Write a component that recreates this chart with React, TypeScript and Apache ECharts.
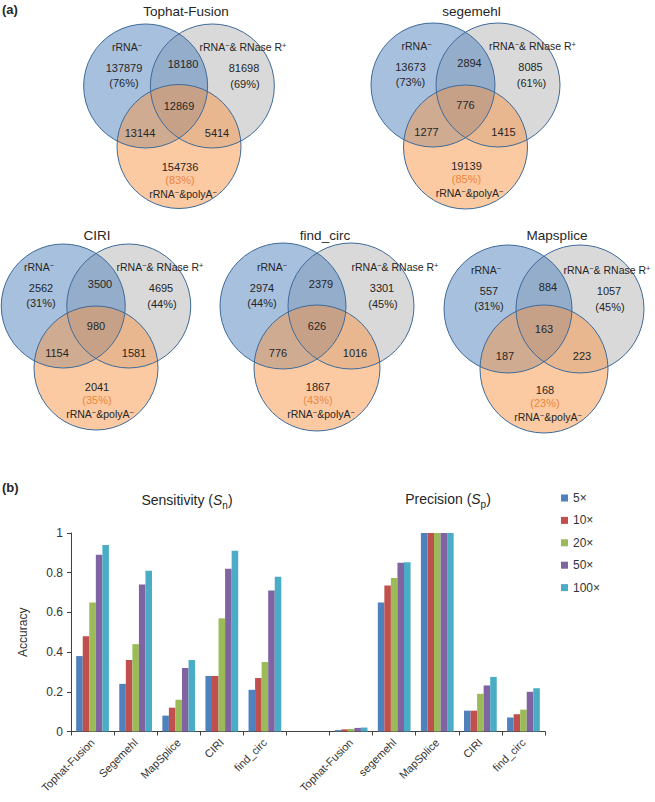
import React, { useEffect, useRef } from 'react';
import * as echarts from 'echarts';

const W = 655;
const H = 802;
const FONT = '"Liberation Sans", Arial, "DejaVu Sans", sans-serif';

// ---------- Venn data (a) ----------
const vennTitles = ['Tophat-Fusion', 'segemehl', 'CIRI', 'find_circ', 'Mapsplice'];
const setA = 'rRNA⁻';
const setB = 'rRNA⁻& RNase R⁺';
const setC = 'rRNA⁻&polyA⁻';
const aOnly = [137879, 13673, 2562, 2974, 557];
const bOnly = [81698, 8085, 4695, 3301, 1057];
const cOnly = [154736, 19139, 2041, 1867, 168];
const abOnly = [18180, 2894, 3500, 2379, 884];
const acOnly = [13144, 1277, 1154, 776, 187];
const bcOnly = [5414, 1415, 1581, 1016, 223];
const abcAll = [12869, 776, 980, 626, 163];
const aPct = ['76%', '73%', '31%', '44%', '31%'];
const bPct = ['69%', '61%', '44%', '45%', '45%'];
const cPct = ['83%', '85%', '35%', '43%', '23%'];

// ---------- Bar data (b) ----------
const sensTools = ['Tophat-Fusion', 'Segemehl', 'MapSplice', 'CIRI', 'find_circ'];
const precTools = ['Tophat-Fusion', 'segemehl', 'MapSplice', 'CIRI', 'find_circ'];
const depths = ['5×', '10×', '20×', '50×', '100×'];
const sens5x = [0.38, 0.24, 0.08, 0.28, 0.21];
const sens10x = [0.48, 0.36, 0.12, 0.28, 0.27];
const sens20x = [0.65, 0.44, 0.16, 0.57, 0.35];
const sens50x = [0.89, 0.74, 0.32, 0.82, 0.71];
const sens100x = [0.94, 0.81, 0.36, 0.91, 0.78];
const prec5x = [0.007, 0.65, 1, 0.105, 0.07];
const prec10x = [0.011, 0.735, 1, 0.105, 0.087];
const prec20x = [0.013, 0.773, 1, 0.19, 0.11];
const prec50x = [0.018, 0.85, 1, 0.232, 0.2];
const prec100x = [0.02, 0.853, 1, 0.275, 0.218];

const sensByDepth = [sens5x, sens10x, sens20x, sens50x, sens100x];
const precByDepth = [prec5x, prec10x, prec20x, prec50x, prec100x];
const depthColors = ['#4F81BD', '#C0504D', '#9BBB59', '#8064A2', '#4BACC6'];

// ---------- Layout (not data) ----------
const vennLayout = [
  { cx: 179, cy: 86, d: 66.7, r: 62, dy: 60.5, tdx: 7, ty: 11, adx: -52, bdx: 64 },
  { cx: 465.5, cy: 85, d: 65, r: 62, dy: 62, tdx: 6, ty: 11, adx: -49, bdx: 67 },
  { cx: 96, cy: 306, d: 65.5, r: 62, dy: 62, tdx: 1, ty: 235, adx: -57, bdx: 64 },
  { cx: 317, cy: 306, d: 68, r: 63, dy: 62, tdx: 8, ty: 235, adx: -45, bdx: 78 },
  { cx: 544, cy: 309, d: 72, r: 64, dy: 60, tdx: 13, ty: 235, adx: -58, bdx: 63 },
];
const tpl: Record<string, [number, number]> = {
  aLbl: [0, -39], bLbl: [0, -39],
  aNum: [-55, -18], aPct: [-55, -3],
  bNum: [65, -18], bPct: [66, -2],
  ab: [4, -22], abc: [0, 20], ac: [-39, 47], bc: [38, 47],
  cNum: [1, 81], cPct: [1, 94], cLbl: [4, 108],
};

const TXT = '#262626';

function txt(x: number, y: number, text: string, opts: any = {}) {
  return {
    type: 'text',
    x,
    y,
    z: 10,
    style: {
      text,
      fill: opts.fill || TXT,
      fontSize: opts.fontSize || 11,
      fontWeight: opts.fontWeight || 'normal',
      fontFamily: FONT,
      align: opts.align || 'center',
      verticalAlign: 'middle',
      textAlign: opts.align || 'center',
      textVerticalAlign: 'middle',
      rich: opts.rich,
    },
  };
}

// set label with superscript signs drawn as rich text
function setLabel(x: number, y: number, label: string) {
  const parts = label.split(/([⁻⁺])/).filter((s) => s.length > 0);
  const text = parts
    .map((s) => (s === '⁻' ? '{p|−}' : s === '⁺' ? '{p|+}' : '{n|' + s + '}'))
    .join('');
  return {
    type: 'text',
    x,
    y,
    z: 10,
    style: {
      text,
      align: 'center',
      verticalAlign: 'middle',
      textAlign: 'center',
      textVerticalAlign: 'middle',
      rich: {
        n: { fontSize: 10.5, fontFamily: FONT, fill: TXT, color: TXT, lineHeight: 12 },
        p: { fontSize: 7.5, fontFamily: FONT, fill: TXT, color: TXT, lineHeight: 8, verticalAlign: 'top' },
      },
    },
  };
}

function vennElements() {
  const els: any[] = [];
  vennTitles.forEach((title, i) => {
    const L = vennLayout[i];
    const ax = L.cx - L.d / 2;
    const bx = L.cx + L.d / 2;
    const oy = L.cy + L.dy;
    const fills = [
      { cx: bx, cy: L.cy, fill: 'rgba(179,179,179,0.5)' },
      { cx: ax, cy: L.cy, fill: 'rgba(79,129,189,0.5)' },
      { cx: L.cx, cy: oy, fill: 'rgba(247,150,70,0.5)' },
    ];
    fills.forEach((c) =>
      els.push({ type: 'circle', z: 1, shape: { cx: c.cx, cy: c.cy, r: L.r }, style: { fill: c.fill, stroke: 'none' } })
    );
    fills.forEach((c) =>
      els.push({ type: 'circle', z: 2, shape: { cx: c.cx, cy: c.cy, r: L.r }, style: { fill: 'none', stroke: '#3E6A99', lineWidth: 1 } })
    );
    const p = (k: string) => [L.cx + tpl[k][0], L.cy + tpl[k][1]];
    els.push(txt(L.cx + L.tdx, L.ty, title, { fontSize: 13.5 }));
    els.push(setLabel(L.cx + L.adx, L.cy + tpl.aLbl[1], setA));
    els.push(setLabel(L.cx + L.bdx, L.cy + tpl.bLbl[1], setB));
    let q = p('aNum'); els.push(txt(q[0], q[1], String(aOnly[i])));
    q = p('aPct'); els.push(txt(q[0], q[1], '(' + aPct[i] + ')'));
    q = p('bNum'); els.push(txt(q[0], q[1], String(bOnly[i])));
    q = p('bPct'); els.push(txt(q[0], q[1], '(' + bPct[i] + ')'));
    q = p('ab'); els.push(txt(q[0], q[1], String(abOnly[i])));
    q = p('abc'); els.push(txt(q[0], q[1], String(abcAll[i])));
    q = p('ac'); els.push(txt(q[0], q[1], String(acOnly[i])));
    q = p('bc'); els.push(txt(q[0], q[1], String(bcOnly[i])));
    q = p('cNum'); els.push(txt(q[0], q[1], String(cOnly[i])));
    q = p('cPct'); els.push(txt(q[0], q[1], '(' + cPct[i] + ')', { fill: '#EC8540' }));
    q = p('cLbl'); els.push(setLabel(q[0], q[1], setC));
  });
  return els;
}

function titleRich(main: string, sub: string) {
  return {
    text: '{m|' + main + ' (}{i|S}{s|' + sub + '}{m|)}',
    rich: {
      m: { fontSize: 14, fontFamily: FONT, fill: TXT, color: TXT, lineHeight: 20 },
      i: { fontSize: 14, fontFamily: FONT, fontStyle: 'italic', fill: TXT, color: TXT, lineHeight: 20 },
      s: { fontSize: 10, fontFamily: FONT, fill: TXT, color: TXT, lineHeight: 10, verticalAlign: 'bottom' },
    },
  };
}

export default function App() {
  const ref = useRef<HTMLDivElement>(null);
  useEffect(() => {
    if (!ref.current) return;
    const chart = echarts.init(ref.current, undefined, { renderer: 'svg', width: W, height: H });
    const categories = [...sensTools, '', ...precTools];
    const series = depths.map((d, i) => ({
      type: 'bar',
      name: d,
      data: [...sensByDepth[i], '-', ...precByDepth[i]],
      barGap: '0%',
      barCategoryGap: '24%',
      itemStyle: { color: depthColors[i] },
    }));
    const sT = titleRich('Sensitivity', 'n');
    const pT = titleRich('Precision', 'p');
    const graphic = [
      ...vennElements(),
      txt(2, 9, '(a)', { fontSize: 13, fontWeight: 'bold', align: 'left' }),
      txt(2, 487, '(b)', { fontSize: 13, fontWeight: 'bold', align: 'left' }),
      {
        type: 'text', x: 187, y: 500, z: 10,
        style: { ...sT, align: 'center', verticalAlign: 'middle', textAlign: 'center', textVerticalAlign: 'middle' },
      },
      {
        type: 'text', x: 448, y: 499, z: 10,
        style: { ...pT, align: 'center', verticalAlign: 'middle', textAlign: 'center', textVerticalAlign: 'middle' },
      },
    ];
    chart.setOption({
      animation: false,
      backgroundColor: '#ffffff',
      textStyle: { fontFamily: FONT },
      grid: { left: 71, right: 110, top: 533, bottom: 70.5, containLabel: false },
      legend: {
        orient: 'vertical',
        left: 561,
        top: 491,
        padding: 0,
        itemWidth: 7,
        itemHeight: 7,
        itemGap: 8.4,
        icon: 'rect',
        data: depths,
        textStyle: { fontSize: 12, color: '#333', lineHeight: 14, fontFamily: FONT },
      },
      xAxis: {
        type: 'category',
        data: categories,
        axisLine: { lineStyle: { color: '#404040', width: 1 } },
        axisTick: { show: true, interval: 0, length: 4, lineStyle: { color: '#404040' } },
        axisLabel: { interval: 0, rotate: 45, fontSize: 11, color: '#333', margin: 9, fontFamily: FONT },
        splitLine: { show: false },
      },
      yAxis: {
        type: 'value',
        min: 0,
        max: 1,
        interval: 0.2,
        name: 'Accuracy',
        nameLocation: 'middle',
        nameGap: 42,
        nameTextStyle: { fontSize: 12, color: '#333', fontFamily: FONT },
        axisLine: { show: true, lineStyle: { color: '#404040', width: 1 } },
        axisTick: { show: true, length: 4, lineStyle: { color: '#404040' } },
        axisLabel: { fontSize: 12, color: '#333', margin: 8, fontFamily: FONT },
        splitLine: { show: false },
      },
      series,
      graphic,
    });
    return () => chart.dispose();
  }, []);
  return <div ref={ref} style={{ position: 'absolute', left: 0, top: 0, width: W, height: H, background: '#fff' }} />;
}
